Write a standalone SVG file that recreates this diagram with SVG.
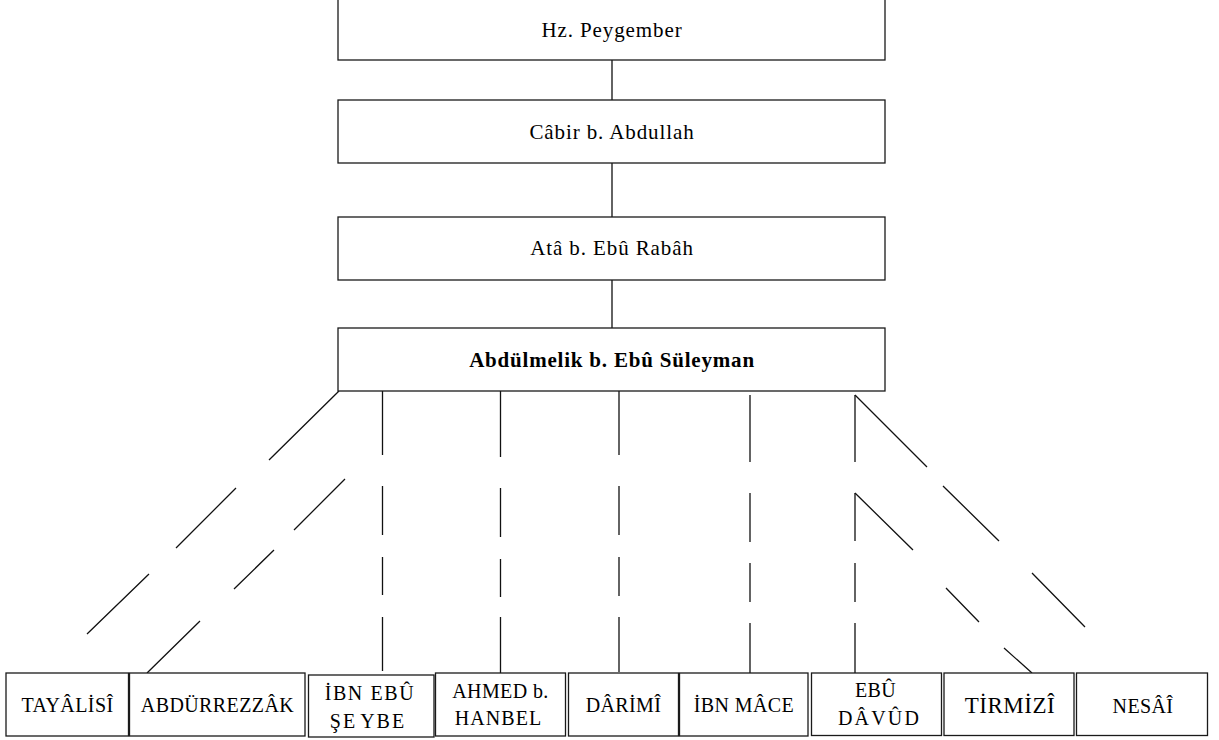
<svg xmlns="http://www.w3.org/2000/svg" width="1219" height="740" viewBox="0 0 1219 740" font-family="'Liberation Serif', Tinos, 'Times New Roman', Times, 'DejaVu Serif', serif">
<style>
.box{fill:#fff;stroke:#1a1a1a;stroke-width:1.3}
.t{font-family:'Liberation Serif',Tinos,'Times New Roman',Times,'DejaVu Serif',serif;font-size:21px;fill:#000;text-anchor:middle;letter-spacing:0.9px}
.s{font-size:20px;letter-spacing:0.4px}
.bold{font-weight:bold;letter-spacing:0.8px}
.con{fill:none;stroke:#111;stroke-width:1.3}
</style>
<rect x="0" y="0" width="1219" height="740" fill="#fff"/>
<g id="connectors">
<path class="con" d="M612 60V100M612 163V217M612 280V328"/>
<path class="con" d="M339 391L269 460M236 488L176 548M149 574L87 634"/>
<path class="con" d="M345 479L294 530M274 550L234 589M200 621L147 673"/>
<path class="con" d="M382.5 391V455M382.5 486V535M382.5 557V595M382.5 617V671"/>
<path class="con" d="M500.5 391V457M500.5 488V537M500.5 559V597M500.5 617V673"/>
<path class="con" d="M619 391V455M619 486V535M619 557V596M619 617V672"/>
<path class="con" d="M750 395V462M750 493V542M750 563V602M750 623V677"/>
<path class="con" d="M855 395V462M855 493V541M855 563V602M855 623V678"/>
<path class="con" d="M855 395L927 467M943 486L999 541M1032 573L1085 627"/>
<path class="con" d="M855 493L913 550M946 588L979 622M1004 648L1032 673"/>
</g>
<g id="n-peygember"><rect class="box" x="338" y="-5" width="547" height="65"/><text class="t" x="612" y="37">Hz. Peygember</text></g>
<g id="n-cabir"><rect class="box" x="338" y="100" width="547" height="63"/><text class="t" x="612" y="139">Câbir b. Abdullah</text></g>
<g id="n-ata"><rect class="box" x="338" y="217" width="547" height="63"/><text class="t" x="612" y="255">Atâ b. Ebû Rabâh</text></g>
<g id="n-abdulmelik"><rect class="box" x="338" y="328" width="547" height="63"/><text class="t bold" x="612" y="367">Abdülmelik b. Ebû Süleyman</text></g>
<g id="n-tayalisi"><rect class="box" x="6" y="673" width="122.5" height="63"/><text class="t s" x="67.5" y="712">TAYÂLİSÎ</text></g>
<g id="n-abdurrezzak"><rect class="box" x="129.5" y="673" width="175.5" height="63"/><text class="t s" x="217.5" y="712">ABDÜRREZZÂK</text></g>
<g id="n-ibnebuseybe"><rect class="box" x="308.5" y="675" width="125.5" height="62"/><text class="t s" x="370" y="700" style="letter-spacing:1.6px">İBN EBÛ</text><text class="t s" x="368" y="728" style="letter-spacing:2px">ŞE<tspan dx="3">YBE</tspan></text></g>
<g id="n-ahmed"><rect class="box" x="435.5" y="673" width="130" height="63"/><text class="t s" x="500.5" y="698">AHMED b.</text><text class="t s" x="498.5" y="725" style="letter-spacing:1.1px">HANBEL</text></g>
<g id="n-darimi"><rect class="box" x="568.5" y="673" width="110" height="63"/><text class="t s" x="623.5" y="712">DÂRİMÎ</text></g>
<g id="n-ibnmace"><rect class="box" x="679.5" y="673" width="128.5" height="63"/><text class="t s" x="744" y="712">İBN MÂCE</text></g>
<g id="n-ebudavud"><rect class="box" x="811.5" y="673" width="130" height="62.5"/><text class="t s" x="875.5" y="697">EBÛ</text><text class="t s" x="879.5" y="725" style="letter-spacing:2.2px">DÂVÛD</text></g>
<g id="n-tirmizi"><rect class="box" x="944" y="673" width="130" height="62.5"/><text class="t" x="1010" y="713" style="font-size:23px;letter-spacing:0.5px">TİRMİZÎ</text></g>
<g id="n-nesai"><rect class="box" x="1076.5" y="673" width="131" height="62.5"/><text class="t s" x="1143" y="713">NESÂÎ</text></g>
</svg>
